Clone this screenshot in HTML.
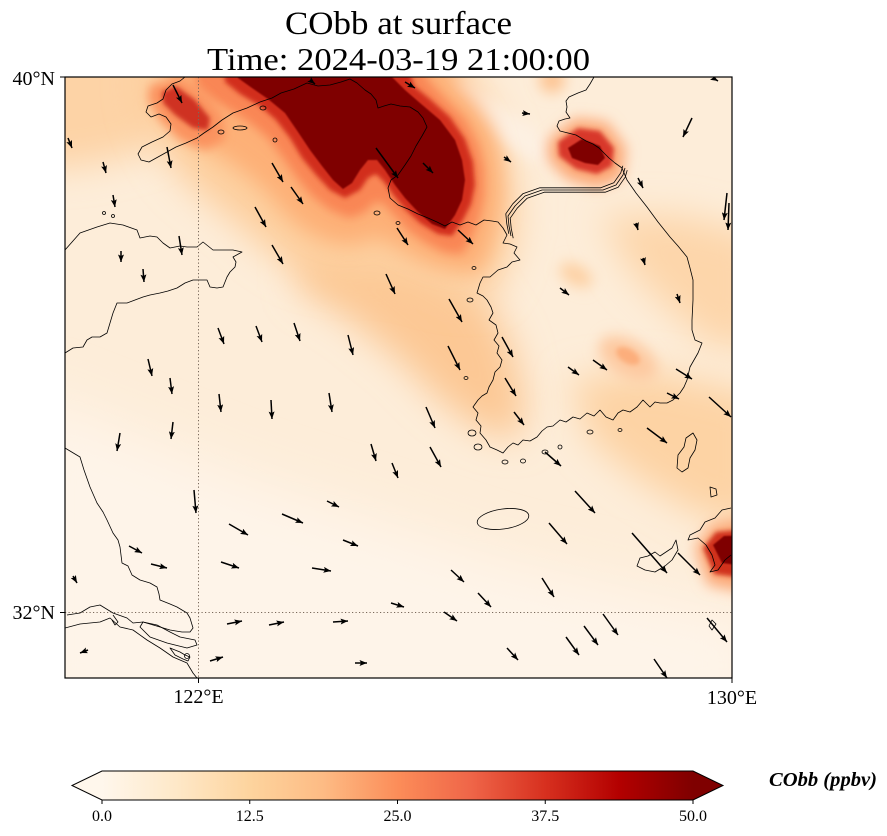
<!DOCTYPE html>
<html><head><meta charset="utf-8"><style>
html,body{margin:0;padding:0;background:#fff;}
body{width:887px;height:836px;overflow:hidden;position:relative;}
svg{position:absolute;left:0;top:0;}
text{font-family:"Liberation Serif","DejaVu Serif",serif;fill:#000;}
</style></head><body>
<svg width="887" height="836" viewBox="0 0 887 836" xmlns="http://www.w3.org/2000/svg">
<defs>
<clipPath id="c"><rect x="65" y="77" width="667" height="601"/></clipPath>
<filter id="b1" filterUnits="userSpaceOnUse" x="0" y="0" width="887" height="836"><feGaussianBlur stdDeviation="0.8"/></filter>
<filter id="b3" filterUnits="userSpaceOnUse" x="0" y="0" width="887" height="836"><feGaussianBlur stdDeviation="2.5"/></filter>
<filter id="b5" filterUnits="userSpaceOnUse" x="0" y="0" width="887" height="836"><feGaussianBlur stdDeviation="5"/></filter>
<filter id="b7" filterUnits="userSpaceOnUse" x="0" y="0" width="887" height="836"><feGaussianBlur stdDeviation="7"/></filter>
<filter id="b10" filterUnits="userSpaceOnUse" x="0" y="0" width="887" height="836"><feGaussianBlur stdDeviation="10"/></filter>
<filter id="b18" filterUnits="userSpaceOnUse" x="0" y="0" width="887" height="836"><feGaussianBlur stdDeviation="18"/></filter>
<filter id="b28" filterUnits="userSpaceOnUse" x="0" y="0" width="887" height="836"><feGaussianBlur stdDeviation="28"/></filter>
<linearGradient id="cb" x1="102" y1="0" x2="693" y2="0" gradientUnits="userSpaceOnUse">
<stop offset="0" stop-color="#fff7ec"/><stop offset="0.125" stop-color="#fee8c8"/><stop offset="0.25" stop-color="#fdd49e"/><stop offset="0.375" stop-color="#fdbb84"/><stop offset="0.5" stop-color="#fc8d59"/><stop offset="0.625" stop-color="#ef6548"/><stop offset="0.75" stop-color="#d7301f"/><stop offset="0.875" stop-color="#b30000"/><stop offset="1" stop-color="#7f0000"/>
</linearGradient>
<marker id="ah" viewBox="0 0 10 8" refX="10" refY="4" markerWidth="7.5" markerHeight="6" markerUnits="userSpaceOnUse" orient="auto"><path d="M0,0 L10,4 L0,8 L2,4 z" fill="#000"/></marker>
</defs>

<text x="398.5" y="34" font-size="33" text-anchor="middle" textLength="227" lengthAdjust="spacingAndGlyphs">CObb at surface</text>
<text x="398.5" y="70" font-size="32" text-anchor="middle" textLength="383" lengthAdjust="spacingAndGlyphs">Time: 2024-03-19 21:00:00</text>

<g clip-path="url(#c)">
<rect x="40" y="40" width="720" height="660" fill="#fdedd9"/>
<polygon filter="url(#b28)" fill="#fef4e9" points="20,390 250,480 500,560 760,620 760,720 20,720"/>
<polygon filter="url(#b18)" fill="#fdd3a6" points="20,40 175,40 180,110 150,150 90,165 20,170"/>
<polygon filter="url(#b18)" fill="#fcc894" points="300,240 420,255 480,290 510,340 525,400 520,440 480,430 440,400 400,360 350,320 300,290"/>
<polygon filter="url(#b18)" fill="#fdd6aa" points="600,215 680,215 760,235 760,350 710,345 670,310 630,270"/>
<polygon filter="url(#b18)" fill="#fdd3a4" points="570,380 650,370 760,395 760,530 700,515 640,480 590,440"/>
<polygon filter="url(#b18)" fill="#fdcd9b" points="150,40 445,40 468,75 485,100 498,128 508,160 515,195 515,235 505,270 490,295 455,295 420,285 380,275 340,280 300,270 265,248 240,225 215,205 190,185 168,160 150,125 140,90"/>
<polygon filter="url(#b7)" fill="#fdf0e2" points="445,85 465,82 500,105 535,128 560,150 555,165 530,160 500,140 470,115 450,100"/>
<circle filter="url(#b7)" fill="#fdc493" cx="552" cy="80" r="13"/>
<polygon filter="url(#b10)" fill="#fdb077" points="175,40 425,40 452,75 475,100 492,128 500,160 502,195 497,225 488,255 478,272 450,270 425,262 402,250 385,240 370,238 355,245 330,242 305,230 285,213 268,193 250,177 230,162 205,147 185,130 168,105"/>
<polygon filter="url(#b5)" fill="#f98654" points="200,40 410,40 428,80 446,100 465,120 478,145 484,170 484,195 479,218 470,240 462,254 444,252 425,242 408,230 395,216 383,203 375,202 365,212 350,218 330,210 312,196 297,178 283,158 268,138 250,123 230,110 210,98 195,85"/>
<polygon filter="url(#b5)" fill="#fb935f" points="150,85 180,78 205,95 222,115 225,140 205,150 180,140 160,120 148,100"/>
<polygon filter="url(#b3)" fill="#d22e1e" points="222,40 400,40 414,86 430,99 450,117 465,139 473,162 475,185 471,204 463,220 452,236 438,234 420,223 406,210 394,196 384,182 376,174 368,178 360,190 345,198 330,190 316,175 302,158 290,138 276,120 260,106 240,94 225,82"/>
<polygon filter="url(#b3)" fill="#cf3322" points="162,92 176,86 195,100 210,118 208,130 193,128 175,115 163,103"/>
<polygon filter="url(#b1)" fill="#7f0000" points="236,40 392,40 392,77 405,90 420,103 440,120 455,140 462,160 465,180 462,200 455,215 445,229 432,224 418,212 405,198 395,185 385,170 377,160 368,160 360,170 352,183 343,189 333,180 322,166 310,150 298,132 285,113 268,99 252,88 238,78"/>
<polygon filter="url(#b7)" fill="#fca877" points="548,140 575,118 607,122 626,148 622,178 598,188 568,180 548,160"/>
<polygon filter="url(#b3)" fill="#d8392a" points="558,142 578,128 600,131 614,148 612,166 597,174 576,169 559,156"/>
<polygon filter="url(#b1)" fill="#7f0000" points="568,148 582,139 600,146 605,158 598,165 585,163 572,158"/>
<polygon filter="url(#b7)" fill="#fca877" points="695,548 712,524 760,515 760,595 708,585"/>
<polygon filter="url(#b3)" fill="#d0301f" points="703,548 716,532 760,528 760,580 714,574"/>
<polygon filter="url(#b1)" fill="#7f0000" points="713,545 724,536 760,535 760,568 722,563"/>
<ellipse filter="url(#b7)" fill="#fdc9a0" cx="628" cy="358" rx="32" ry="18" transform="rotate(30 628 358)"/>
<ellipse filter="url(#b3)" fill="#fcae7c" cx="628" cy="356" rx="13" ry="7" transform="rotate(30 628 356)"/>
<ellipse filter="url(#b7)" fill="#fdd0a3" cx="576" cy="275" rx="18" ry="10" transform="rotate(30 576 275)"/>

<g fill="none" stroke="#000" stroke-width="0.8" stroke-linejoin="round">
<path d="M185,77 L180,81 L172,84 L166,90 L163,99 L157,103 L148,106 L146,112 L151,117 L159,114 L166,117 L171,124 L170,131 L163,137 L152,142 L142,147 L138,154 L141,160 L149,162 L158,157 L167,152 L176,147 L186,143 L197,138 L204,133 L213,127 L222,120 L233,113 L247,108 L260,102 L272,98 L281,93 L294,89 L307,83 L318,86 L330,85 L341,82 L350,79 L357,83 L365,90 L371,94 L376,100 L378,108 L384,106 L391,104 L400,106 L410,107 L418,112 L423,118 L427,127 L422,136 L416,146 L411,156 L405,165 L398,175 L391,180 L388,188 L390,198 L398,205 L408,209 L418,214 L428,218 L437,222 L445,226 L452,222 L460,225 L468,222 L476,225 L484,220 L492,221 L498,222 L503,228 L507,235 L503,243 L510,244 L517,247 L514,253 L520,260 L512,262 L507,267 L498,270 L490,277 L483,277 L480,283 L477,293 L483,296 L487,300 L491,307 L493,313 L489,320 L496,325 L498,333 L494,340 L499,346 L497,353 L502,360 L500,367 L495,372 L493,380 L489,387 L487,393 L482,396 L478,400 L473,407 L478,413 L476,420 L481,426 L480,433 L486,440 L490,447 L497,450 L503,453 L508,447 L513,443 L518,445 L523,440 L530,441 L537,437 L542,431 L547,427 L553,426 L560,420 L566,422 L573,417 L580,419 L587,413 L594,416 L600,410 L606,417 L613,420 L618,413 L623,410 L630,412 L637,407 L643,400 L650,407 L655,402 L660,403 L667,403 L673,400 L680,393 L684,387 L687,380 L690,367 L694,360 L698,353 L702,343 L695,340 L692,330 L692,320 L693,300 L693,280 L690,268 L687,257 L678,246 L670,237 L658,222 L647,207 L636,193 L627,180 L622,168 L615,163 L609,158 L603,152 L599,148 L593,144 L586,141 L576,135 L568,133 L560,131 L557,126 L559,121 L565,119 L570,118 L566,112 L567,107 L566,101 L569,97 L578,93 L586,90 L590,84 L594,77"/>
<path d="M625,168 L623,175 L616,185 L603,190 L582,190 L542,190 L525,196 L515,206 L508,216 L509,226 L511,236"/>
<path transform="translate(-2.2,-2.2)" d="M625,168 L623,175 L616,185 L603,190 L582,190 L542,190 L525,196 L515,206 L508,216 L509,226 L511,236"/>
<path transform="translate(2.2,2.2)" d="M625,168 L623,175 L616,185 L603,190 L582,190 L542,190 L525,196 L515,206 L508,216 L509,226 L511,236"/>
<path d="M65,250 L80,233 L97,227 L110,223 L123,225 L137,230 L140,238 L150,236 L157,237 L163,243 L170,248 L180,246 L187,247 L197,247 L203,242 L208,246 L213,250 L225,250 L233,250 L242,252 L233,257 L236,262 L235,267 L230,272 L227,277 L223,287 L217,288 L210,287 L207,280 L200,280 L193,280 L185,283 L177,288 L168,291 L160,293 L150,295 L143,297 L135,300 L127,303 L117,303 L113,313 L110,323 L107,333 L100,337 L92,337 L87,340 L83,347 L73,348 L65,353"/>
<path d="M65,448 L80,457 L84,470 L90,487 L97,503 L103,512 L107,520 L113,533 L118,540 L120,547 L122,563 L128,566 L132,575 L140,580 L150,583 L157,587 L159,594 L160,600 L170,604 L177,607 L187,613 L190,618 L193,628 L190,632 L182,632 L170,630 L160,627 L143,622 L133,623 L127,618 L113,613 L100,605 L90,607 L80,613 L67,615"/>
<path d="M113,615 L118,622 L115,625 L112,620"/>
<path d="M143,622 L157,625 L170,632 L180,637 L195,640 L197,645 L187,648 L167,643 L150,637 L140,627 Z"/>
<path d="M65,628 L80,624 L100,622 L110,618 L120,627 L133,630 L147,640 L160,648 L173,657 L187,663 L193,673 L197,678"/>
<path d="M170,648 L180,652 L185,655 L190,657 L188,661 L183,659 L175,655 Z"/>
<circle cx="187" cy="656" r="2.5"/>
<ellipse cx="503" cy="519" rx="26" ry="10" transform="rotate(-8 503 519)"/>
<path d="M693,433 L697,440 L695,450 L690,458 L688,468 L682,472 L677,468 L678,455 L684,447 L686,438 Z"/>
<path d="M731,508 L722,510 L715,518 L705,522 L700,530 L690,535 L688,540 L698,538 L706,545 L712,555 L715,565 L710,572 L718,570 L725,560 L731,555"/>
<path d="M676,540 L672,548 L666,552 L660,556 L655,552 L648,556 L640,558 L637,566 L645,570 L655,572 L665,566 L672,560 L678,550 Z"/>
<path d="M710,487 L716,489 L717,495 L711,497 Z"/>
<path d="M712,620 L716,624 L712,630 L709,626 Z"/>
<ellipse cx="240" cy="128" rx="7" ry="2"/>
<ellipse cx="221" cy="132" rx="3" ry="2"/>
<ellipse cx="263" cy="108" rx="3" ry="2"/>
<ellipse cx="275" cy="140" rx="2" ry="2"/>
<ellipse cx="377" cy="213" rx="3" ry="2"/>
<ellipse cx="398" cy="223" rx="2" ry="1.5"/>
<ellipse cx="472" cy="433" rx="4" ry="3"/>
<ellipse cx="478" cy="447" rx="4" ry="3"/>
<ellipse cx="505" cy="462" rx="3" ry="2"/>
<ellipse cx="523" cy="461" rx="2.5" ry="2"/>
<ellipse cx="545" cy="452" rx="3" ry="2"/>
<ellipse cx="560" cy="447" rx="2" ry="2"/>
<ellipse cx="590" cy="432" rx="3" ry="2"/>
<ellipse cx="620" cy="430" rx="2" ry="1.5"/>
<ellipse cx="466" cy="378" rx="2" ry="1.5"/>
<ellipse cx="470" cy="300" rx="3" ry="2"/>
<ellipse cx="474" cy="268" rx="2" ry="1.5"/>
<ellipse cx="104" cy="213" rx="1.5" ry="1.5"/>
<ellipse cx="113" cy="216" rx="1.5" ry="1.5"/>
</g>

<g stroke="#7a6a5c" stroke-width="1" stroke-dasharray="1.2,2.3" fill="none">
<line x1="198.5" y1="77" x2="198.5" y2="678"/>
<line x1="65" y1="612.5" x2="732" y2="612.5"/>
</g>

<g stroke="#000" stroke-width="1.5" marker-end="url(#ah)">
<line x1="173" y1="85" x2="182" y2="103"/>
<line x1="310" y1="80" x2="315" y2="84"/>
<line x1="405" y1="82" x2="415" y2="88"/>
<line x1="68" y1="138" x2="72" y2="148"/>
<line x1="103" y1="162" x2="106" y2="173"/>
<line x1="113" y1="195" x2="115" y2="207"/>
<line x1="167" y1="147" x2="171" y2="168"/>
<line x1="272" y1="163" x2="283" y2="182"/>
<line x1="291" y1="187" x2="303" y2="204"/>
<line x1="255" y1="207" x2="266" y2="227"/>
<line x1="376" y1="148" x2="398" y2="178"/>
<line x1="423" y1="163" x2="433" y2="173"/>
<line x1="397" y1="228" x2="408" y2="245"/>
<line x1="458" y1="230" x2="473" y2="244"/>
<line x1="522" y1="113" x2="530" y2="114"/>
<line x1="504" y1="157" x2="511" y2="162"/>
<line x1="692" y1="118" x2="683" y2="137"/>
<line x1="713" y1="78" x2="718" y2="81"/>
<line x1="638" y1="178" x2="643" y2="188"/>
<line x1="636" y1="223" x2="638" y2="230"/>
<line x1="643" y1="258" x2="645" y2="265"/>
<line x1="560" y1="288" x2="569" y2="295"/>
<line x1="677" y1="294" x2="680" y2="303"/>
<line x1="727" y1="193" x2="724" y2="220"/>
<line x1="729" y1="203" x2="728" y2="230"/>
<line x1="179" y1="236" x2="182" y2="255"/>
<line x1="121" y1="251" x2="121" y2="262"/>
<line x1="143" y1="269" x2="144" y2="282"/>
<line x1="272" y1="245" x2="283" y2="264"/>
<line x1="218" y1="328" x2="224" y2="344"/>
<line x1="256" y1="326" x2="262" y2="342"/>
<line x1="294" y1="323" x2="300" y2="341"/>
<line x1="348" y1="335" x2="353" y2="355"/>
<line x1="148" y1="359" x2="152" y2="376"/>
<line x1="170" y1="378" x2="172" y2="394"/>
<line x1="219" y1="394" x2="221" y2="412"/>
<line x1="271" y1="400" x2="272" y2="419"/>
<line x1="329" y1="393" x2="332" y2="412"/>
<line x1="173" y1="422" x2="171" y2="439"/>
<line x1="120" y1="433" x2="117" y2="451"/>
<line x1="371" y1="444" x2="376" y2="461"/>
<line x1="194" y1="490" x2="196" y2="513"/>
<line x1="327" y1="501" x2="339" y2="507"/>
<line x1="282" y1="514" x2="303" y2="523"/>
<line x1="229" y1="524" x2="248" y2="535"/>
<line x1="343" y1="540" x2="358" y2="546"/>
<line x1="129" y1="546" x2="142" y2="553"/>
<line x1="151" y1="564" x2="167" y2="568"/>
<line x1="221" y1="562" x2="239" y2="568"/>
<line x1="312" y1="568" x2="331" y2="571"/>
<line x1="73" y1="576" x2="77" y2="583"/>
<line x1="227" y1="624" x2="242" y2="621"/>
<line x1="269" y1="625" x2="284" y2="622"/>
<line x1="333" y1="622" x2="348" y2="621"/>
<line x1="88" y1="650" x2="80" y2="653"/>
<line x1="210" y1="661" x2="223" y2="657"/>
<line x1="355" y1="663" x2="367" y2="663"/>
<line x1="386" y1="274" x2="395" y2="294"/>
<line x1="449" y1="299" x2="462" y2="322"/>
<line x1="448" y1="346" x2="460" y2="370"/>
<line x1="502" y1="337" x2="513" y2="357"/>
<line x1="505" y1="378" x2="516" y2="396"/>
<line x1="514" y1="412" x2="524" y2="425"/>
<line x1="568" y1="367" x2="579" y2="375"/>
<line x1="593" y1="360" x2="607" y2="370"/>
<line x1="676" y1="369" x2="692" y2="379"/>
<line x1="667" y1="393" x2="679" y2="399"/>
<line x1="709" y1="397" x2="731" y2="417"/>
<line x1="426" y1="407" x2="435" y2="428"/>
<line x1="430" y1="447" x2="441" y2="467"/>
<line x1="392" y1="463" x2="398" y2="478"/>
<line x1="545" y1="452" x2="561" y2="466"/>
<line x1="647" y1="428" x2="667" y2="443"/>
<line x1="575" y1="491" x2="595" y2="513"/>
<line x1="549" y1="523" x2="567" y2="544"/>
<line x1="632" y1="533" x2="667" y2="573"/>
<line x1="678" y1="553" x2="700" y2="575"/>
<line x1="451" y1="570" x2="464" y2="582"/>
<line x1="542" y1="578" x2="554" y2="597"/>
<line x1="478" y1="593" x2="491" y2="607"/>
<line x1="391" y1="603" x2="404" y2="607"/>
<line x1="444" y1="612" x2="457" y2="621"/>
<line x1="603" y1="614" x2="618" y2="635"/>
<line x1="584" y1="626" x2="598" y2="645"/>
<line x1="566" y1="637" x2="579" y2="655"/>
<line x1="507" y1="648" x2="518" y2="660"/>
<line x1="654" y1="659" x2="667" y2="678"/>
<line x1="707" y1="618" x2="727" y2="642"/>
</g>
</g>

<rect x="65" y="77" width="667" height="601" fill="none" stroke="#000" stroke-width="1.2"/>
<g stroke="#000" stroke-width="1">
<line x1="60" y1="77" x2="65" y2="77"/>
<line x1="60" y1="612.5" x2="65" y2="612.5"/>
<line x1="198.5" y1="678" x2="198.5" y2="683"/>
<line x1="732" y1="678" x2="732" y2="683"/>
</g>
<text x="55" y="85" font-size="20" text-anchor="end">40°N</text>
<text x="55" y="619" font-size="20" text-anchor="end">32°N</text>
<text x="198.5" y="703" font-size="20" text-anchor="middle">122°E</text>
<text x="732" y="704" font-size="20" text-anchor="middle">130°E</text>

<polygon points="102,771 72,785.5 102,800" fill="#fff7ec"/>
<polygon points="693,771 723,785.5 693,800" fill="#7f0000"/>
<rect x="102" y="771" width="591" height="29" fill="url(#cb)"/>
<path d="M102,771 L693,771 L723,785.5 L693,800 L102,800 L72,785.5 Z" fill="none" stroke="#000" stroke-width="1"/>
<g stroke="#000" stroke-width="1">
<line x1="102" y1="800" x2="102" y2="804"/>
<line x1="249.75" y1="800" x2="249.75" y2="804"/>
<line x1="397.5" y1="800" x2="397.5" y2="804"/>
<line x1="545.25" y1="800" x2="545.25" y2="804"/>
<line x1="693" y1="800" x2="693" y2="804"/>
</g>
<g font-size="16" text-anchor="middle">
<text x="102" y="821">0.0</text>
<text x="249.75" y="821">12.5</text>
<text x="397.5" y="821">25.0</text>
<text x="545.25" y="821">37.5</text>
<text x="693" y="821">50.0</text>
</g>
<text x="769" y="786" font-size="20" font-weight="bold" font-style="italic" textLength="108" lengthAdjust="spacingAndGlyphs">CObb (ppbv)</text>
</svg>
</body></html>
